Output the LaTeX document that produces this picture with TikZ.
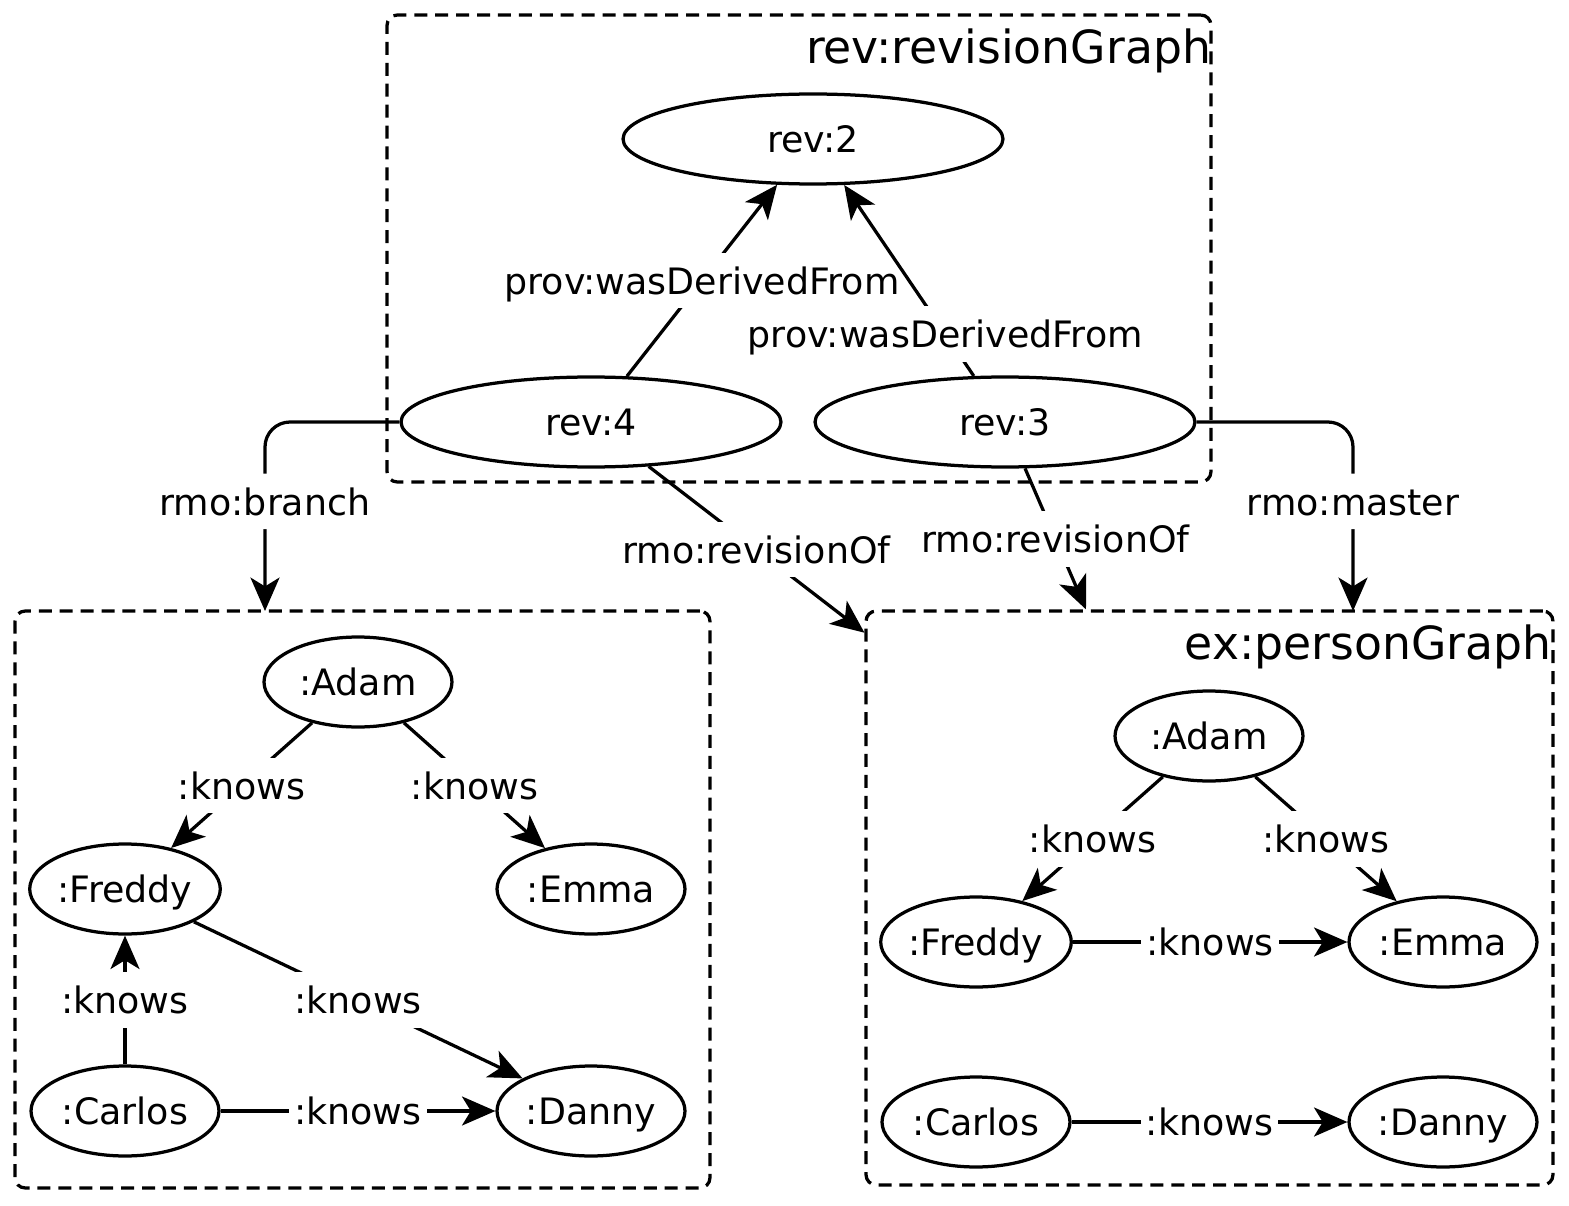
\documentclass[tikz,border=0pt]{standalone}
\usepackage{fontspec}
\setmainfont{DejaVu Sans}
\usetikzlibrary{shapes.geometric,arrows.meta}

\begin{document}
\begin{tikzpicture}[x=0.02cm, y=-0.02cm, line width=1.85pt,
		>={Stealth[length=19pt,width=16.5pt,inset=5pt]},
		res/.style={draw, ellipse, minimum width=3.76cm, minimum height=1.8cm, inner sep=0pt, text height=15.5pt, text depth=0pt, font=\fontsize{20.7}{24}\selectfont},
		revnode/.style={res, minimum width=7.6cm},
		graphbox/.style={draw, dash pattern=on 7.4pt off 4.5pt, rounded corners=0.2cm, inner sep=0pt},
		gtitle/.style={anchor=north east, inner sep=0pt, font=\fontsize{26}{30}\selectfont},
		lbl/.style={fill=white, inner xsep=3pt, inner ysep=8pt, text height=15.5pt, text depth=0pt, font=\fontsize{20.7}{24}\selectfont}]
	\useasboundingbox (0,0) rectangle (1569,1206);
	% named graphs
	\node[graphbox, minimum width=16.48cm, minimum height=9.34cm] (rg) at (799,248.5) {};
	\node[graphbox, minimum width=13.9cm, minimum height=11.54cm] (lg) at (362.5,899.5) {};
	\node[graphbox, minimum width=13.74cm, minimum height=11.48cm] (pg) at (1209.5,898) {};
	\node[gtitle] (rgt) at ([yshift=-8pt]rg.north east) {rev:revisionGraph};
	\node[gtitle] (pgt) at ([xshift=-1pt,yshift=-8pt]pg.north east) {ex:personGraph};
	% revisions
	\node[revnode] (r2) at (813,139) {rev:2};
	\node[revnode] (r4) at (591,422) {rev:4};
	\node[revnode] (r3) at (1005,422) {rev:3};
	\draw[->] (r4) -- (r2) node[lbl, pos=0.5] {prov:wasDerivedFrom};
	\draw[->] (r3) -- (r2) node[lbl, pos=0.22] {prov:wasDerivedFrom};
	\coordinate (brend) at (265,611);
	\coordinate (msend) at (1353,611);
	\draw[->, rounded corners=0.5cm] (r4.west) -| (brend) node[lbl, pos=0.71] {rmo:branch};
	\draw[->, rounded corners=0.5cm] (r3.east) -| (msend) node[lbl, pos=0.71] {rmo:master};
	\draw[->] (r4) -- (pg) node[lbl, pos=0.5] {rmo:revisionOf};
	\draw[->] (r3) -- (pg) node[lbl, pos=0.5] {rmo:revisionOf};
	% branch graph
	\node[res] (la) at (358,682) {:Adam};
	\node[res] (lf) at (125,889) {:Freddy};
	\node[res] (le) at (591,889) {:Emma};
	\node[res] (lc) at (125,1111) {:Carlos};
	\node[res] (ld) at (591,1111) {:Danny};
	\draw[->] (la) -- (lf) node[lbl, midway] {:knows};
	\draw[->] (la) -- (le) node[lbl, midway] {:knows};
	\draw[->] (lc) -- (lf) node[lbl, midway] {:knows};
	\draw[->] (lf) -- (ld) node[lbl, midway] {:knows};
	\draw[->] (lc) -- (ld) node[lbl, midway] {:knows};
	% master graph
	\node[res] (ra) at (1209,736) {:Adam};
	\node[res] (rf) at (976,942) {:Freddy};
	\node[res] (re) at (1443,942) {:Emma};
	\node[res] (rc) at (976,1122) {:Carlos};
	\node[res] (rd) at (1443,1122) {:Danny};
	\draw[->] (ra) -- (rf) node[lbl, midway] {:knows};
	\draw[->] (ra) -- (re) node[lbl, midway] {:knows};
	\draw[->] (rf) -- (re) node[lbl, midway] {:knows};
	\draw[->] (rc) -- (rd) node[lbl, midway] {:knows};
\end{tikzpicture}
\end{document}
